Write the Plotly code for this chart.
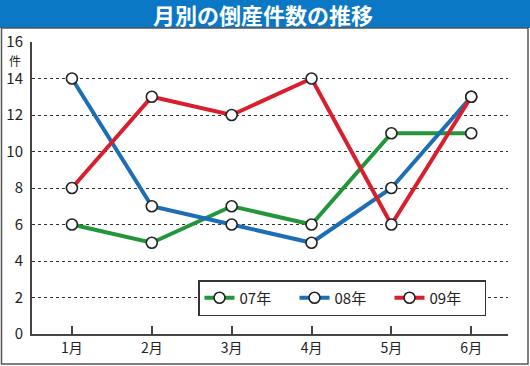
import plotly.graph_objects as go

months = ["1月", "2月", "3月", "4月", "5月", "6月"]
y07 = [6, 5, 7, 6, 11, 11]
y08 = [14, 7, 6, 5, 8, 13]
y09 = [8, 13, 12, 14, 6, 13]
series = [("07年", y07, "#23963a"), ("08年", y08, "#1c6fb5"), ("09年", y09, "#d91f2d")]
y_ticks = [0, 2, 4, 6, 8, 10, 12, 14, 16]

W, H = 530, 366
L, R, T, B = 32, 22, 42, 32
pw, ph = W - L - R, H - T - B

def px(x):
    return (x - L) / pw

def py(y):
    return (H - B - y) / ph

FONT = "Noto Sans CJK JP"

fig = go.Figure()
for name, vals, col in series:
    fig.add_trace(go.Scatter(
        x=list(range(len(months))), y=vals, name=name, mode="lines+markers",
        line=dict(color=col, width=4),
        marker=dict(size=11, color="white", line=dict(color="#222", width=1.6)),
    ))

fig.update_layout(
    width=W, height=H,
    margin=dict(l=L, r=R, t=T, b=B, autoexpand=False),
    paper_bgcolor="white", plot_bgcolor="white",
    font=dict(family=FONT, color="#222", size=14),
    showlegend=True,
    legend=dict(
        orientation="h", x=px(486), xanchor="right", y=py(280), yanchor="top",
        bgcolor="white", bordercolor="#333", borderwidth=1.5,
        font=dict(size=15, family=FONT), itemwidth=30,
        entrywidth=50, entrywidthmode="pixels",
    ),
    xaxis=dict(
        range=[-0.5, 5.46], tickvals=list(range(len(months))), ticktext=months,
        showgrid=False, zeroline=False, showline=True, linecolor="#444", linewidth=2,
        ticks="inside", ticklen=8, tickwidth=1.5, tickcolor="#444",
        tickfont=dict(size=14, family=FONT), automargin=False,
    ),
    yaxis=dict(
        range=[0, 16], tickvals=y_ticks, ticktext=[str(v) for v in y_ticks],
        showgrid=True, gridcolor="#333", gridwidth=1, griddash="dot",
        zeroline=False, showline=True, linecolor="#444", linewidth=2,
        ticks="", tickfont=dict(size=15, family=FONT), ticklabelstandoff=4,
        automargin=False,
    ),
    shapes=[
        dict(type="rect", xref="paper", yref="paper",
             x0=px(0), x1=px(W), y0=py(28), y1=py(0),
             fillcolor="#0b78c6", line=dict(width=0), layer="below"),
        dict(type="rect", xref="paper", yref="paper",
             x0=px(1.5), x1=px(528), y0=py(364), y1=py(28),
             fillcolor="rgba(0,0,0,0)", line=dict(color="#555", width=1.5)),
    ],
    annotations=[
        dict(text="<b>月別の倒産件数の推移</b>", xref="paper", yref="paper",
             x=px(263), y=py(14), xanchor="center", yanchor="middle",
             showarrow=False, font=dict(size=22, color="white", family=FONT)),
        dict(text="件", xref="paper", yref="paper",
             x=px(15), y=py(60), xanchor="center", yanchor="middle",
             showarrow=False, borderpad=0,
             font=dict(size=12, color="#222", family=FONT)),
    ],
)

fig.write_html("out.html", config={"displayModeBar": False},
               post_script="document.body.style.margin='0';")
